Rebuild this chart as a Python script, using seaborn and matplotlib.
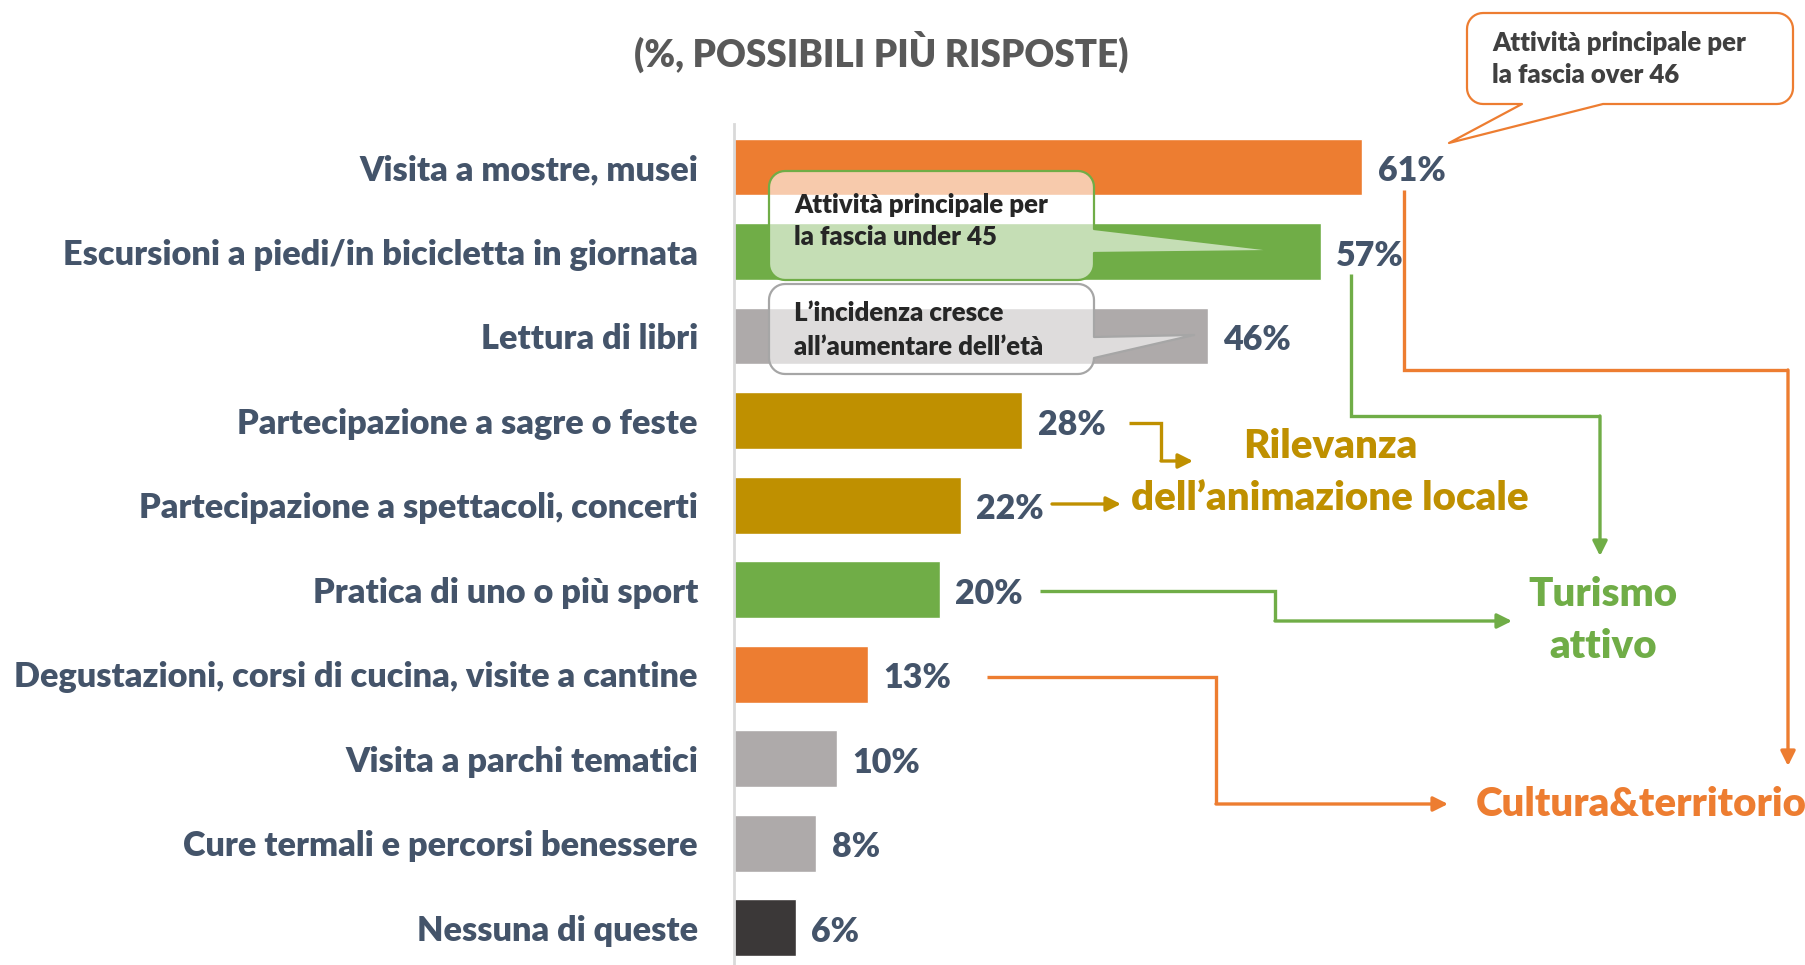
import numpy as np
import matplotlib
matplotlib.use("Agg")
import matplotlib.pyplot as plt
from matplotlib.patches import Polygon
import seaborn as sns

# data
categories = [
    "Visita a mostre, musei",
    "Escursioni a piedi/in bicicletta in giornata",
    "Lettura di libri",
    "Partecipazione a sagre o feste",
    "Partecipazione a spettacoli, concerti",
    "Pratica di uno o più sport",
    "Degustazioni, corsi di cucina, visite a cantine",
    "Visita a parchi tematici",
    "Cure termali e percorsi benessere",
    "Nessuna di queste",
]
values = [61, 57, 46, 28, 22, 20, 13, 10, 8, 6]
bar_colors = ["#ED7D31", "#70AD47", "#AEAAAA", "#BF9000", "#BF9000",
              "#70AD47", "#ED7D31", "#AEAAAA", "#AEAAAA", "#3B3838"]
title = "(%, POSSIBILI PIÙ RISPOSTE)"

ORANGE, GREEN, GOLD, GREY = "#ED7D31", "#70AD47", "#BF9000", "#A6A6A6"
SLATE = "#44546A"
WEIGHT = "heavy"

sns.set_style("white")
plt.rcParams["font.family"] = ["Lato", "DejaVu Sans"]

W, H = 1806, 965
fig = plt.figure(figsize=(W / 100, H / 100), dpi=100)

# main axes: left edge at x=734px, rows from y=124px to bottom
ax = fig.add_axes([734 / W, 0, (W - 734) / W, (H - 124) / H])
sns.barplot(x=values, y=categories, hue=categories, palette=bar_colors,
            legend=False, width=0.67, orient="h", ax=ax, saturation=1)
ax.set_xlim(0, (W - 734) / 10.3)
ax.set_ylim(9.44, -0.51)
for s in ["top", "right", "bottom"]:
    ax.spines[s].set_visible(False)
ax.spines["left"].set_color("#D9D9D9")
ax.spines["left"].set_linewidth(2)
ax.set_xticks([])
ax.set_xlabel("")
ax.set_ylabel("")
ax.tick_params(axis="y", length=0, pad=26)
for lab in ax.get_yticklabels():
    lab.set_fontsize(24.7)
    lab.set_color(SLATE)
    lab.set_fontweight(WEIGHT)
for c in ax.containers:
    for t in ax.bar_label(c, fmt="%d%%", padding=11, fontsize=24.5,
                          color=SLATE, fontweight=WEIGHT):
        t.xyann = (11, -3)

# overlay in pixel coordinates for annotations
ov = fig.add_axes([0, 0, 1, 1])
ov.set_xlim(0, W)
ov.set_ylim(H, 0)
ov.axis("off")
ov.patch.set_alpha(0)

ov.text(881, 52, title, ha="center", va="center", fontsize=26.5,
        color="#595959", fontweight=WEIGHT)


def callout(x0, y0, x1, y1, r, side, base, tip, edge, face, alpha):
    def arc(cx, cy, a0, a1):
        a = np.radians(np.linspace(a0, a1, 10))
        return list(zip(cx + r * np.cos(a), cy + r * np.sin(a)))
    pts = []
    pts += arc(x1 - r, y0 + r, -90, 0)
    if side == "right":
        pts += [(x1, base[0]), tip, (x1, base[1])]
    pts += arc(x1 - r, y1 - r, 0, 90)
    if side == "bottom":
        pts += [(base[1], y1), tip, (base[0], y1)]
    pts += arc(x0 + r, y1 - r, 90, 180)
    pts += arc(x0 + r, y0 + r, 180, 270)
    fill = Polygon(pts, closed=True, facecolor=face, alpha=alpha,
                   edgecolor="none")
    line = Polygon(pts, closed=True, facecolor="none", edgecolor=edge,
                   linewidth=1.6, joinstyle="round")
    ov.add_patch(fill)
    ov.add_patch(line)


def callout_text(x, y0, y1, lines, color):
    for y, s in zip((y0, y1), lines):
        ov.text(x, y, s, fontsize=18.5, color=color, va="center",
                fontweight=WEIGHT)


callout(1467, 13, 1793, 104, 16, "bottom", (1522, 1603), (1449, 143),
        ORANGE, "white", 1.0)
callout_text(1492, 43, 75, ["Attività principale per", "la fascia over 46"],
             "#404040")

callout(769, 171, 1094, 280, 16, "right", (229, 253), (1281, 251),
        GREEN, "white", 0.6)
callout_text(794, 205, 237, ["Attività principale per", "la fascia under 45"],
             "#262626")

callout(769, 284, 1094, 374, 16, "right", (337, 358), (1194, 335),
        GREY, "white", 0.6)
callout_text(794, 313, 347, ["L’incidenza cresce", "all’aumentare dell’età"],
             "#262626")


def connector(points, color):
    xs, ys = zip(*points[:-1])
    ov.plot(xs, ys, color=color, lw=2.4, solid_joinstyle="miter",
            solid_capstyle="butt")
    ov.annotate("", xy=points[-1], xytext=points[-2],
                arrowprops=dict(arrowstyle="-|>", color=color, lw=2.4,
                                mutation_scale=22, shrinkA=0, shrinkB=0))


connector([(1404, 190), (1404, 370), (1788, 370), (1788, 766)], ORANGE)
connector([(1351, 274), (1351, 416), (1600, 416), (1600, 556)], GREEN)
connector([(1129, 423), (1161, 423), (1161, 461), (1193, 461)], GOLD)
connector([(1052, 504), (1121, 504)], GOLD)
connector([(1040, 591), (1275, 591), (1275, 621), (1512, 621)], GREEN)
connector([(987, 677), (1216, 677), (1216, 804), (1448, 804)], ORANGE)


def big_label(x, y, s, color):
    ov.text(x, y, s, fontsize=29, color=color, ha="center", va="center",
            fontweight=WEIGHT)


big_label(1330, 446, "Rilevanza", GOLD)
big_label(1330, 498, "dell’animazione locale", GOLD)
big_label(1603, 595, "Turismo", GREEN)
big_label(1603, 646, "attivo", GREEN)
big_label(1641, 804, "Cultura&territorio", ORANGE)

fig.savefig("out.png", dpi=100)
